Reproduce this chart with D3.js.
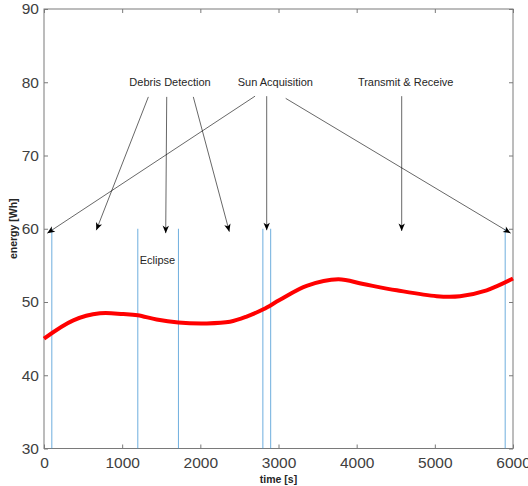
<!DOCTYPE html>
<html>
<head>
<meta charset="utf-8">
<script src="https://cdn.jsdelivr.net/npm/d3@7"></script>
<style>
  body { margin: 0; background: #fff; }
  text { font-family: "Liberation Sans", Arial, sans-serif; }
</style>
</head>
<body>
<div id="chart-area"></div>
<script>
/* data */
const timeS  = [0, 375, 716, 1015, 1198, 1441, 1718, 2081, 2379, 2592, 2806, 3019, 3360, 3765, 4085, 4512, 5024, 5322, 5663, 6000]
const energy = [45.0, 47.5, 48.45, 48.35, 48.2, 47.6, 47.2, 47.08, 47.3, 48.0, 49.0, 50.3, 52.2, 53.1, 52.45, 51.6, 50.8, 50.8, 51.6, 53.2]

const eventTimes = [100, 1200, 1720, 2800, 2900, 5900]

const xTicks = [0, 1000, 2000, 3000, 4000, 5000, 6000]
const yTicks = [30, 40, 50, 60, 70, 80, 90]

const labelNames = ["Debris Detection", "Sun Acquisition", "Transmit & Receive"]
const labelT = [1612, 2959, 4627]
const labelE = [80, 80, 80]

const arrowFrom = [[1335, 78], [1570, 78], [1910, 78], [2700, 78.1], [2849, 78.1], [3092, 77.8], [4576, 78.1]]
const arrowTo   = [[669, 59.8], [1557, 59.4], [2371, 59.6], [42, 59.4], [2849, 59.8], [5970, 59.4], [4576, 59.7]]

const eclipseLabel = { text: "Eclipse", t: 1452, e: 55.7 }

/* chart area */
const MARGIN = { LEFT: 44, RIGHT: 15, TOP: 9, BOTTOM: 37.5 }
const WIDTH = 528 - MARGIN.LEFT - MARGIN.RIGHT
const HEIGHT = 486 - MARGIN.TOP - MARGIN.BOTTOM

const svg = d3.select("#chart-area").append("svg")
  .attr("width", 528)
  .attr("height", 486)

svg.append("rect").attr("width", 528).attr("height", 486).attr("fill", "#fff")

const defs = svg.append("defs")
defs.append("marker")
  .attr("id", "head")
  .attr("markerUnits", "userSpaceOnUse")
  .attr("viewBox", "-8 -4 9 8")
  .attr("refX", 0).attr("refY", 0)
  .attr("markerWidth", 9).attr("markerHeight", 8)
  .attr("orient", "auto")
  .append("path")
  .attr("d", "M0,0 L-7.5,-3.2 L-5.5,0 L-7.5,3.2 Z")
  .attr("fill", "#000")

const g = svg.append("g")
  .attr("transform", `translate(${MARGIN.LEFT}, ${MARGIN.TOP})`)

const x = d3.scaleLinear().domain([0, 6000]).range([0, WIDTH])
const y = d3.scaleLinear().domain([30, 90]).range([HEIGHT, 0])

// box
g.append("rect")
  .attr("width", WIDTH).attr("height", HEIGHT)
  .attr("fill", "none").attr("stroke", "#7a7a7a").attr("stroke-width", 1)

// axes (ticks pointing inward, box on)
const axisStyle = sel => {
  sel.select(".domain").remove()
  sel.selectAll(".tick line").attr("stroke", "#7a7a7a")
  sel.selectAll(".tick text")
    .attr("fill", "#404040")
    .style("font-size", "15.5px")
}

g.append("g").attr("transform", `translate(0, ${HEIGHT})`)
  .call(d3.axisBottom(x).tickValues(xTicks).tickFormat(d3.format("d")).tickSizeInner(-4).tickSizeOuter(0).tickPadding(8))
  .call(axisStyle)
g.append("g")
  .call(d3.axisLeft(y).tickValues(yTicks).tickFormat(d3.format("d")).tickSizeInner(-4).tickSizeOuter(0).tickPadding(5))
  .call(axisStyle)
g.append("g")
  .call(d3.axisTop(x).tickValues(xTicks).tickSizeInner(-4).tickSizeOuter(0).tickFormat(""))
  .call(axisStyle)
g.append("g").attr("transform", `translate(${WIDTH}, 0)`)
  .call(d3.axisRight(y).tickValues(yTicks).tickSizeInner(-4).tickSizeOuter(0).tickFormat(""))
  .call(axisStyle)

// axis titles
g.append("text")
  .attr("x", WIDTH / 2).attr("y", HEIGHT + 34)
  .attr("text-anchor", "middle")
  .style("font-size", "10.5px").style("font-weight", "bold")
  .attr("fill", "#262626")
  .text("time [s]")

g.append("text")
  .attr("transform", `translate(-27, ${HEIGHT / 2}) rotate(-90)`)
  .attr("text-anchor", "middle")
  .style("font-size", "10.5px").style("font-weight", "bold")
  .attr("fill", "#262626")
  .text("energy [Wh]")

// event lines
g.selectAll(".event")
  .data(eventTimes)
  .enter().append("line")
  .attr("class", "event")
  .attr("x1", d => x(d)).attr("x2", d => x(d))
  .attr("y1", y(60)).attr("y2", y(30))
  .attr("stroke", "#3d93d3")
  .attr("stroke-opacity", 0.75)
  .attr("stroke-width", 1)

// energy curve
const line = d3.line()
  .x((d, i) => x(timeS[i]))
  .y(d => y(d))
  .curve(d3.curveCatmullRom)

g.append("path")
  .attr("d", line(energy))
  .attr("fill", "none")
  .attr("stroke", "#ff0000")
  .attr("stroke-width", 4)

// annotation arrows
g.selectAll(".arrow")
  .data(arrowFrom)
  .enter().append("line")
  .attr("class", "arrow")
  .attr("x1", d => x(d[0])).attr("y1", d => y(d[1]))
  .attr("x2", (d, i) => x(arrowTo[i][0])).attr("y2", (d, i) => y(arrowTo[i][1]))
  .attr("stroke", "#000")
  .attr("stroke-width", 0.6)
  .attr("marker-end", "url(#head)")

// annotation labels
g.selectAll(".label")
  .data(labelNames)
  .enter().append("text")
  .attr("class", "label")
  .attr("x", (d, i) => x(labelT[i]))
  .attr("y", (d, i) => y(labelE[i]))
  .attr("dy", "0.35em")
  .attr("text-anchor", "middle")
  .style("font-size", "11px")
  .attr("fill", "#262626")
  .text(d => d)

g.append("text")
  .attr("x", x(eclipseLabel.t)).attr("y", y(eclipseLabel.e))
  .attr("dy", "0.35em")
  .attr("text-anchor", "middle")
  .style("font-size", "11px")
  .attr("fill", "#262626")
  .text(eclipseLabel.text)
</script>
</body>
</html>
